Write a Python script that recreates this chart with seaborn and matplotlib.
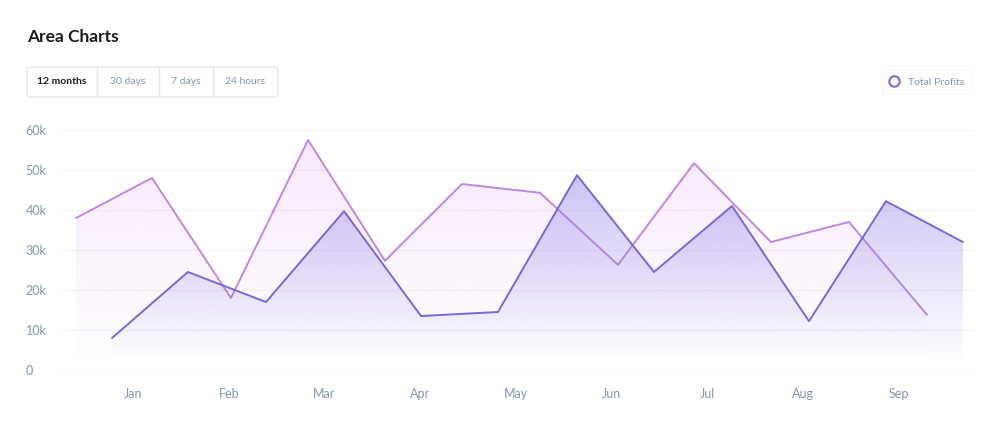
import numpy as np
import pandas as pd
import matplotlib
matplotlib.use("Agg")
import matplotlib.pyplot as plt
import seaborn as sns
from matplotlib.patches import FancyBboxPatch, Polygon
from matplotlib.colors import to_rgb
from matplotlib.lines import Line2D

# ---- data -------------------------------------------------------------
months = ["Jan", "Feb", "Mar", "Apr", "May", "Jun", "Jul", "Aug", "Sep"]
y_ticks = [0, 10000, 20000, 30000, 40000, 50000, 60000]
y_labels = ["0", "10k", "20k", "30k", "40k", "50k", "60k"]

# position along the month axis (0 = Jan)
series_a_x = [-0.595, 0.198, 1.023, 1.828, 2.632, 3.436, 4.251, 5.065, 5.859, 6.663, 7.478, 8.292]
series_a_y = [38000, 48000, 18000, 57500, 27300, 46500, 44300, 26300, 51700, 32000, 37000, 13800]

series_b_x = [-0.219, 0.574, 1.389, 2.204, 3.008, 3.812, 4.637, 5.441, 6.256, 7.060, 7.864, 8.668]
series_b_y = [8000, 24500, 17000, 39700, 13500, 14500, 48700, 24500, 41000, 12200, 42200, 32000]

tabs = ["12 months", "30 days", "7 days", "24 hours"]
legend_label = "Total Profits"

# ---- style ------------------------------------------------------------
sns.set_theme(style="white")
plt.rcParams["font.family"] = ["Lato", "DejaVu Sans"]

col_a = "#c088e4"
col_a_fill = "#e2b0f4"
col_b = "#7a68d8"
col_b_fill = "#9585ea"
tick_col = "#8196b0"

W, H = 1000, 425
fig = plt.figure(figsize=(10, 4.25), dpi=100)
fig.patch.set_facecolor("white")
ax = fig.add_axes([63 / W, (H - 370) / H, 912 / W, 240 / H])
ax.set_facecolor("white")

xmin, xmax = -0.731, 8.794


def gradient_fill(xs, ys, color, a_top, a_bot, y_top, y_bot, z):
    rgb = to_rgb(color)
    n = 256
    img = np.zeros((n, 1, 4))
    img[..., 0], img[..., 1], img[..., 2] = rgb
    img[..., 3] = np.linspace(a_top, a_bot, n).reshape(-1, 1)
    im = ax.imshow(img, aspect="auto", extent=[xmin, xmax, y_bot, y_top],
                   origin="upper", zorder=z, interpolation="bicubic")
    verts = [(xs[0], 0)] + list(zip(xs, ys)) + [(xs[-1], 0)]
    poly = Polygon(verts, closed=True, facecolor="none", edgecolor="none")
    ax.add_patch(poly)
    im.set_clip_path(poly)


df_a = pd.DataFrame({"x": series_a_x, "y": series_a_y})
df_b = pd.DataFrame({"x": series_b_x, "y": series_b_y})

gradient_fill(series_a_x, series_a_y, col_a_fill, 0.30, 0.0, 60000, 2000, 1)
sns.lineplot(data=df_a, x="x", y="y", ax=ax, color=col_a, linewidth=1.4,
             zorder=2, sort=False)
gradient_fill(series_b_x, series_b_y, col_b_fill, 0.52, 0.0, 52000, 2000, 3)
sns.lineplot(data=df_b, x="x", y="y", ax=ax, color=col_b, linewidth=1.4,
             zorder=4, sort=False)

ax.set_xlim(xmin, xmax)
ax.set_ylim(0, 60000)

# grid
for t in y_ticks:
    ax.axhline(t, color="#f3f3f5", linewidth=0.9, zorder=0)

ax.set_xticks(range(len(months)))
ax.set_xticklabels(months)
ax.set_yticks(y_ticks)
ax.set_yticklabels(y_labels)
for lab in ax.get_yticklabels():
    lab.set_horizontalalignment("left")
ax.tick_params(axis="y", length=0, pad=27, labelsize=9, labelcolor=tick_col)
ax.tick_params(axis="x", length=0, pad=13, labelsize=9, labelcolor=tick_col)
ax.set_xlabel("")
ax.set_ylabel("")
for s in ax.spines.values():
    s.set_visible(False)

# title
fig.text(27 / W, 1 - 37 / H, "Area Charts", fontsize=12.5, fontweight="bold",
         color="#1b1b25", va="center", ha="left")

# tab selector
box = FancyBboxPatch((27 / W, 1 - 97 / H), (278 - 27) / W, 30 / H,
                     boxstyle="round,pad=0,rounding_size=0.006",
                     transform=fig.transFigure, facecolor="white",
                     edgecolor="#e4e7ec", linewidth=1.0)
fig.patches.append(box)
edges = [27, 97, 159, 213, 278]
for i, name in enumerate(tabs):
    cx = (edges[i] + edges[i + 1]) / 2
    fig.text(cx / W, 1 - 82 / H, name, ha="center", va="center", fontsize=7.5,
             color="#1b1b25" if i == 0 else tick_col,
             fontweight="bold" if i == 0 else "normal")
    if i > 0:
        fig.add_artist(Line2D([edges[i] / W] * 2, [1 - 97 / H, 1 - 67 / H],
                              transform=fig.transFigure, color="#e4e7ec",
                              linewidth=1.0))

# legend
handle = Line2D([], [], marker="o", linestyle="none", markersize=7.5,
                markerfacecolor="white", markeredgecolor="#8a6fe0",
                markeredgewidth=1.6)
leg = fig.legend([handle], [legend_label], loc="center right",
                 bbox_to_anchor=(972 / W, 1 - 82 / H), frameon=True,
                 fontsize=7.5, handletextpad=0.9, borderpad=0.7,
                 handlelength=0.9, borderaxespad=0, fancybox=False)
leg.get_frame().set_edgecolor("#f4f4f7")
leg.get_frame().set_linewidth(0.8)
for t in leg.get_texts():
    t.set_color(tick_col)

fig.savefig("out.png", dpi=100, facecolor="white")
